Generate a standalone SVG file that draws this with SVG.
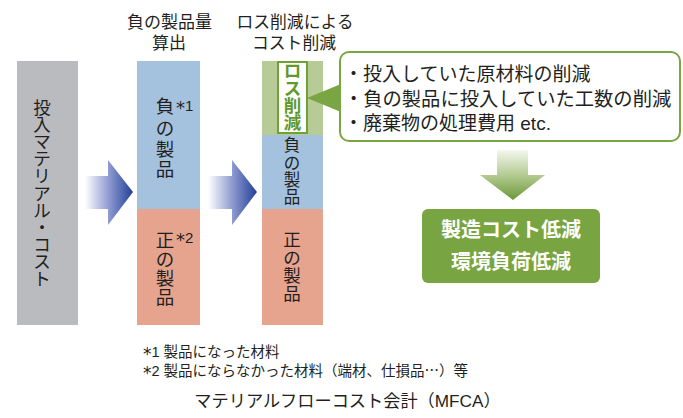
<svg xmlns="http://www.w3.org/2000/svg" width="683" height="418" viewBox="0 0 683 418">
<defs>
<style>
text{font-family:"Liberation Sans","Noto Sans CJK JP",sans-serif;fill:#231f20}
.v{text-anchor:middle;dominant-baseline:central}
.c{text-anchor:middle}
.w{fill:#fff;font-weight:bold}
.j{font-family:"Noto Sans CJK JP",sans-serif}
.a{font-family:"DejaVu Sans",sans-serif}
</style>
<linearGradient id="gb" x1="0" y1="0" x2="1" y2="0">
<stop offset="0" stop-color="#ffffff"/>
<stop offset="0.5" stop-color="#8e9ad0"/>
<stop offset="1" stop-color="#223f98"/>
</linearGradient>
<linearGradient id="gg" x1="0" y1="0" x2="0" y2="1">
<stop offset="0" stop-color="#f4f7ef"/>
<stop offset="0.5" stop-color="#b4cb92"/>
<stop offset="1" stop-color="#6c9838"/>
</linearGradient>
</defs>

<g id="label-top1">
<text class="c" x="169.5" y="28" font-size="17">負の製品量</text>
<text class="c" x="169" y="49" font-size="17">算出</text>
</g>
<g id="label-top2">
<text class="c" x="295" y="28" font-size="16.8">ロス削減による</text>
<text class="c" x="294" y="49" font-size="16.8">コスト削減</text>
</g>

<g id="input-cost">
<rect x="17" y="61" width="61" height="264" fill="#babbbf"/>
<text class="v" font-size="17.5"><tspan x="42" y="108">投</tspan><tspan x="42" y="125.1">入</tspan><tspan x="42" y="142.2">マ</tspan><tspan x="42" y="159.3">テ</tspan><tspan x="42" y="176.4">リ</tspan><tspan x="42" y="193.5">ア</tspan><tspan x="42" y="210.6">ル</tspan><tspan x="42" y="227.7">・</tspan><tspan x="42" y="244.8">コ</tspan><tspan x="42" y="261.9">ス</tspan><tspan x="42" y="279">ト</tspan></text>
</g>

<g id="calc-column">
<rect x="137" y="61" width="63" height="148" fill="#a4c1dd"/>
<rect x="137" y="209" width="63" height="116" fill="#e6a48e"/>
<text class="v" font-size="18.5"><tspan x="165" y="106">負</tspan><tspan x="165" y="128">の</tspan><tspan x="165" y="149">製</tspan><tspan x="165" y="169">品</tspan></text>
<text x="176" y="111" font-size="15"><tspan class="a" font-size="18" dy="3">*</tspan><tspan dy="-3">1</tspan></text>
<text class="v" font-size="18.5"><tspan x="165" y="240">正</tspan><tspan x="165" y="259">の</tspan><tspan x="165" y="278">製</tspan><tspan x="165" y="297">品</tspan></text>
<text x="176" y="243" font-size="15"><tspan class="a" font-size="18" dy="3">*</tspan><tspan dy="-3">2</tspan></text>
</g>

<g id="loss-column">
<rect x="262" y="61" width="61" height="74" fill="#b6cb95"/>
<rect x="262" y="135" width="61" height="74" fill="#a4c1dd"/>
<rect x="262" y="209" width="61" height="116" fill="#e6a48e"/>
<rect x="278" y="62" width="29" height="71" fill="#fff" stroke="#6ea235" stroke-width="2"/>
<text class="v" font-size="17.5" style="fill:#5f9a2c;font-weight:bold"><tspan x="292.5" y="71">ロ</tspan><tspan x="292.5" y="89">ス</tspan><tspan x="292.5" y="106">削</tspan><tspan x="292.5" y="123">減</tspan></text>
<text class="v" font-size="16.5"><tspan x="292" y="145">負</tspan><tspan x="292" y="163">の</tspan><tspan x="292" y="180">製</tspan><tspan x="292" y="197">品</tspan></text>
<text class="v" font-size="17.5"><tspan x="292" y="240">正</tspan><tspan x="292" y="258">の</tspan><tspan x="292" y="276">製</tspan><tspan x="292" y="294">品</tspan></text>
</g>

<g id="callout">
<rect x="340" y="52" width="340" height="89" rx="9" fill="#fff" stroke="#79a543" stroke-width="2"/>
<polygon points="341,84 307,98 341,112" fill="#79a543"/>
<text x="344" y="81" font-size="19">・投入していた原材料の削減</text>
<text x="344" y="105.5" font-size="19.3">・負の製品に投入していた工数の削減</text>
<text x="344" y="130" font-size="19">・廃棄物の処理費用 etc.</text>
</g>

<g id="result">
<rect x="422" y="209" width="178" height="74" rx="6" fill="#78a441"/>
<text class="c w" x="511" y="237" font-size="20">製造コスト低減</text>
<text class="c w" x="511" y="269" font-size="20">環境負荷低減</text>
</g>

<g id="connectors">
<polygon points="85,176 108,176 108,160 133,192 108,225 108,209 85,209" fill="url(#gb)"/>
<polygon points="208,176 232,176 232,160 257,192 232,225 232,209 208,209" fill="url(#gb)"/>
<polygon points="497,150 528,150 528,175 545,175 513,200 480,175 497,175" fill="url(#gg)"/>
</g>

<g id="notes">
<text x="143" y="357" font-size="14.5"><tspan class="a" font-size="17" dy="3">*</tspan><tspan dy="-3">1 製品になった材料</tspan></text>
<text x="143" y="376" font-size="14.5"><tspan class="a" font-size="17" dy="3">*</tspan><tspan dy="-3">2 製品にならなかった材料（端材、仕損品</tspan><tspan class="j">…</tspan>）等</text>
<text class="c" x="347.5" y="407" font-size="17.2">マテリアルフローコスト会計（MFCA）</text>
</g>
</svg>
